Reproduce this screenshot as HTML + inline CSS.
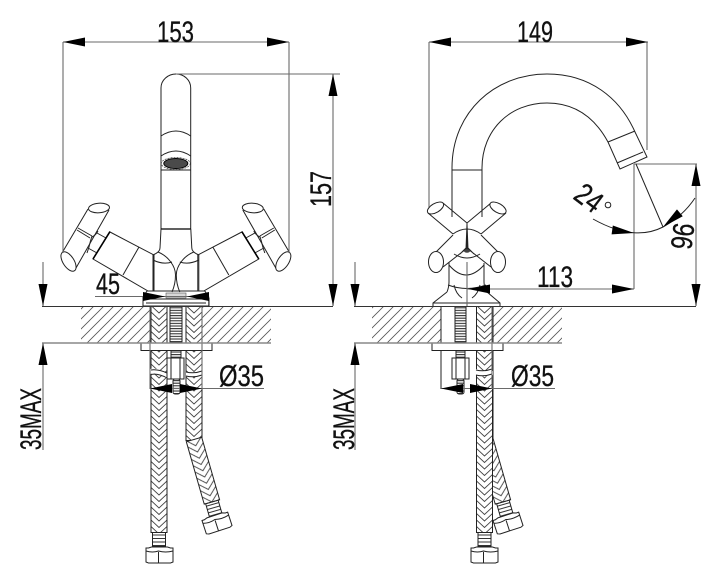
<!DOCTYPE html>
<html><head><meta charset="utf-8">
<style>
html,body{margin:0;padding:0;background:#fff;width:720px;height:584px;overflow:hidden}
svg{display:block}
text{font-family:"Liberation Sans Narrow","Liberation Sans",sans-serif;font-size:30px;fill:#111;stroke:#111;stroke-width:.3}
.l{fill:none;stroke:#222;stroke-width:1}
.w{fill:#fff;stroke:#222;stroke-width:1}
.d{fill:none;stroke:#6a6a6a;stroke-width:1.1}
</style></head><body>
<svg width="720" height="584" viewBox="0 0 720 584" xmlns="http://www.w3.org/2000/svg">
<defs>
<pattern id="h" width="10" height="10" patternUnits="userSpaceOnUse"><path d="M-1,11L11,-1M-1,1L1,-1M9,11L11,9" stroke="#555" stroke-width=".8" fill="none"/></pattern>
<pattern id="b" width="16" height="6.500" patternUnits="userSpaceOnUse"><path d="M0,-7.500L8,0L16,-7.500M0,-1L8,6.500L16,-1M0,5.500L8,13L16,5.500" stroke="#444" stroke-width=".9" fill="none"/></pattern>
<pattern id="r" width="14" height="3.500" patternUnits="userSpaceOnUse"><path d="M0,1H14" stroke="#333" stroke-width="1"/></pattern>
<pattern id="t" width="12" height="2.600" patternUnits="userSpaceOnUse"><path d="M0,1H12" stroke="#333" stroke-width="1.100"/></pattern>
<g id="arrowR"><path d="M0,0L-22,-4.500V4.500Z" fill="#000"/></g>
<g id="nut"><path class="w" d="M-13.500,-7H-11L-8,-8H8L11,-7H13.500V7L11,8H-11L-13.500,7Z"/><path class="l" d="M-1,-3V8M-13.500,-4Q-7,-2 -1,-4Q6,-2 13.500,-4"/></g>
<g id="straight"><rect x="0" y="0" width="16" height="226" fill="#fff"/><rect x="0" y="0" width="16" height="226" style="fill:url(#b)" class="l"/>
<rect x="1.500" y="226" width="13" height="14" fill="#fff"/><rect x="1.500" y="226" width="13" height="14" style="fill:url(#r)" class="l"/></g>
<g id="bent">
<rect x="0" y="0" width="16" height="134" style="fill:url(#b)" class="l"/>
<g transform="translate(8,133) rotate(-16)"><path fill="#fff" d="M-8,0H8V65H-8Z"/><g transform="translate(-8,0)"><rect x="0" y="0" width="16" height="65" style="fill:url(#b)" class="l"/><rect x="1.500" y="65" width="13" height="14" style="fill:url(#r)" class="l"/></g></g>
</g>
<g id="half">
<path class="l" d="M88,209L62,253M109,210L76,268"/>
<ellipse class="w" cx="99" cy="208" rx="10.500" ry="4.800" transform="rotate(-4 99 208)"/>
<ellipse class="w" cx="68.500" cy="261.500" rx="5.500" ry="11" transform="rotate(-33 68.500 261.500)"/>
<path class="l" d="M77,230L90,238M78,228L92,236M92,236Q90,242 89,247L87,253M92,237Q96,235 98,231M97,233L106,238M88,248L97,253"/>
<path class="w" d="M110,232L154,255V291H148L93,259Z"/>
<path d="M110,231.500L93,259" stroke="#000" stroke-width="1.600" fill="none"/>
<path class="l" d="M139,247L123,275"/>
<path class="l" d="M161,229L160,248Q160,252 153,255V291M158,252C168,256 175.500,266 175.500,275Q175.500,284 172,292M153,260Q163,265 172,262"/>
<path class="l" d="M147,291L143,297V306"/>
</g>
</defs>

<!-- ===== LEFT FAUCET ===== -->
<rect x="81" y="306.500" width="69" height="36" fill="url(#h)"/>
<rect x="202" y="306.500" width="69" height="36" fill="url(#h)"/>

<path class="l" d="M161,229V88C161,80 168,74 176,74C184,74 190.700,80 190.700,88V229"/>
<path class="l" d="M161,136Q176,126 190.700,136M161,156Q176,146 190.700,156M161,170H190.700"/>
<path d="M161,229H190.700" stroke="#000" stroke-width="1.200"/>
<ellipse cx="175.800" cy="163.500" rx="14.500" ry="6" fill="none" stroke="#444" stroke-width=".7" stroke-dasharray="2 1"/>
<ellipse cx="175.800" cy="163.500" rx="12" ry="5" fill="#4a4a4a" stroke="#000"/>
<use href="#half"/>
<use href="#half" transform="matrix(-1 0 0 1 351.800 0)"/>
<path class="l" d="M147,291H205"/>
<rect x="166" y="293" width="20" height="5" fill="#d8d8d8" stroke="#555" stroke-width=".6"/>

<use href="#straight" transform="translate(151,306.500)"/>
<use href="#bent" transform="translate(186,306.500)"/>
<g transform="translate(217,523) rotate(-18)"><use href="#nut"/></g>
<g transform="translate(159.500,555)"><use href="#nut"/></g>

<path d="M150,369Q158,367 167,374V379Q158,372 150,374Z" fill="#fff"/>
<path d="M186,372Q194,374 203,370V375Q194,378 186,376Z" fill="#fff"/>
<path class="l" d="M151,370Q158,369 167,373M151,374.500Q158,373 167,378M186,372Q194,374 202,371M186,376Q194,378 202,375"/>

<rect class="w" x="141" y="343" width="71" height="7.500"/>
<rect x="170" y="306.500" width="12" height="36" style="fill:url(#t)" class="l"/>
<rect x="171" y="350.500" width="10" height="8" style="fill:url(#t)" class="l"/>
<rect x="173" y="379" width="7" height="15" rx="2" style="fill:url(#t)" class="l"/>
<rect class="w" x="167" y="358" width="17" height="21"/>
<path class="l" d="M171,358V379M180,358V379"/>

<path class="l" d="M143,298V306H209V298M146,303H206M149,299H203"/>

<!-- LEFT DIMS -->
<path class="d" d="M63,42H289M63,42V253M289,42V253M176,74H340M333,74V306M43,262V306M43,343V450M95,296.500H143M143,296.500H208M150,306V389M202,306V389M150,388.500H264"/>
<path d="M42,306.500H333" stroke="#333" stroke-width="1"/>
<path d="M42,343H271" stroke="#888" stroke-width="1.600"/>
<use href="#arrowR" transform="translate(63,42) rotate(180)"/>
<use href="#arrowR" transform="translate(289,42)"/>
<use href="#arrowR" transform="translate(333,74) rotate(-90)"/>
<use href="#arrowR" transform="translate(333,306) rotate(90)"/>
<use href="#arrowR" transform="translate(43,306) rotate(90)"/>
<use href="#arrowR" transform="translate(43,343) rotate(-90)"/>
<use href="#arrowR" transform="translate(165,296.500)"/>
<use href="#arrowR" transform="translate(187,296.500) rotate(180)"/>
<use href="#arrowR" transform="translate(150,388.500) rotate(180)"/>
<use href="#arrowR" transform="translate(202,388.500)"/>
<text x="157" y="42" textLength="37" lengthAdjust="spacingAndGlyphs">153</text>
<text x="96" y="294" textLength="24" lengthAdjust="spacingAndGlyphs">45</text>
<text x="219" y="386" textLength="45" lengthAdjust="spacingAndGlyphs">Ø35</text>
<text transform="translate(331,207) rotate(-90)" textLength="36" lengthAdjust="spacingAndGlyphs">157</text>
<text transform="translate(41,450) rotate(-90)" textLength="62" lengthAdjust="spacingAndGlyphs">35MAX</text>

<!-- ===== RIGHT FAUCET ===== -->
<rect x="372" y="306.500" width="69" height="36" fill="url(#h)"/>
<rect x="492" y="306.500" width="70" height="36" fill="url(#h)"/>

<path class="l" d="M452,217V168C452,112 495,74 547,74C590,74 620,98 635,132L647,157L620,169L608,142C595,118 575,103 547,103C510,103 482,130 482,168V217"/>
<path class="l" d="M608,142L635,131M617,163L643,152M452,170H482"/>

<path class="l" d="M428,213L453,234M443,203L467,223L491,203M506,213L481,234"/>
<ellipse class="w" cx="435.500" cy="208" rx="9" ry="4.500" transform="rotate(-30 435.500 208)"/>
<ellipse class="w" cx="498" cy="208" rx="9" ry="4.500" transform="rotate(30 498 208)"/>
<path class="l" d="M453,234Q467,224 481,234M436,252L453,235M443,267L466,249L467,224L468,249L491,267M498,252L481,235M467,223V252M460,254L467,247L474,254"/>
<ellipse class="w" cx="436" cy="262" rx="7.500" ry="10.500"/>
<ellipse class="w" cx="498" cy="262" rx="7.500" ry="10.500"/>
<ellipse cx="467" cy="251" rx="3" ry="1.800" fill="#444"/>
<path class="l" d="M454,254Q467,262 480,254M449,262V282Q449,287 447,292M484,263V282Q484,287 487,292M449,265Q466,285 484,265M448,285Q467,292 486,285M454,285Q456,294 462,298M480,285Q478,294 472,298"/>
<path class="l" d="M447,292L433,303V306M487,292L500,303V306M433,303H500"/>

<path class="l" d="M441,306V389"/>
<use href="#bent" transform="translate(477,306.500)"/>
<g transform="translate(508,523) rotate(-18)"><use href="#nut"/></g>
<use href="#straight" transform="translate(476.500,306.500)"/>
<g transform="translate(484.500,555)"><use href="#nut"/></g>
<path d="M476,369Q484,372 493,371V375Q484,378 476,375Z" fill="#fff"/>
<path class="l" d="M476,370Q484,372 492,369M476,375Q484,377 492,374"/>
<rect class="w" x="432" y="343" width="71" height="7.500"/>
<rect x="455" y="306.500" width="11" height="36" style="fill:url(#t)" class="l"/>
<rect x="456" y="350.500" width="9" height="8" style="fill:url(#t)" class="l"/>
<rect x="457" y="379" width="7" height="15" rx="2" style="fill:url(#t)" class="l"/>
<rect class="w" x="452" y="358" width="17" height="21"/>
<path class="l" d="M456,358V379M465,358V379"/>

<!-- RIGHT DIMS -->
<path class="d" d="M429,42H648M429,42V207M647,42V150M467,289H634M634,164V289M634,164H697M696,164V306M355,262V306M355,343V450M441,388.500H555M492,306V389M467,262V306"/>
<path d="M354,306.500H696" stroke="#333" stroke-width="1"/>
<path d="M354,343H562" stroke="#888" stroke-width="1.600"/>
<path class="l" d="M636,164L663,227M593,219Q634,242 663,227Q683,216 695,198"/>
<use href="#arrowR" transform="translate(429,42) rotate(180)"/>
<use href="#arrowR" transform="translate(648,42)"/>
<use href="#arrowR" transform="translate(468,289) rotate(180)"/>
<use href="#arrowR" transform="translate(634,289)"/>
<use href="#arrowR" transform="translate(696,164) rotate(-90)"/>
<use href="#arrowR" transform="translate(696,306) rotate(90)"/>
<use href="#arrowR" transform="translate(355,306) rotate(90)"/>
<use href="#arrowR" transform="translate(355,343) rotate(-90)"/>
<use href="#arrowR" transform="translate(441,388.500) rotate(180)"/>
<use href="#arrowR" transform="translate(492,388.500)"/>
<use href="#arrowR" transform="translate(634,233) rotate(8)"/>
<use href="#arrowR" transform="translate(663,227) rotate(140)"/>
<text x="517" y="42" textLength="36" lengthAdjust="spacingAndGlyphs">149</text>
<text x="537" y="287" textLength="36" lengthAdjust="spacingAndGlyphs">113</text>
<text x="511" y="386" textLength="43" lengthAdjust="spacingAndGlyphs">Ø35</text>
<text transform="translate(354,450) rotate(-90)" textLength="62" lengthAdjust="spacingAndGlyphs">35MAX</text>
<text transform="translate(674,222) rotate(97)" textLength="26" lengthAdjust="spacingAndGlyphs">96</text>
<text transform="translate(572,198) rotate(37)" textLength="27" lengthAdjust="spacingAndGlyphs">24</text>
<circle cx="608" cy="205" r="2.800" fill="none" stroke="#222" stroke-width="1"/>
</svg>
</body></html>
